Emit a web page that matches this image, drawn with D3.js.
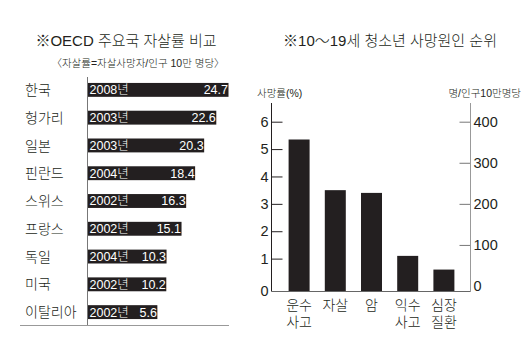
<!DOCTYPE html>
<html>
<head>
<meta charset="utf-8">
<script src="https://cdn.jsdelivr.net/npm/d3@7"></script>
<style>
  body { margin: 0; background: #fff; }
  svg text { font-family: "Liberation Sans", "Noto Sans CJK KR", sans-serif; fill: #231f20; font-weight: 300; }
</style>
</head>
<body>
<div id="chart"></div>
<script>
// left: OECD suicide rates
const countries = ['한국', '헝가리', '일본', '핀란드', '스위스', '프랑스', '독일', '미국', '이탈리아'];
const years = ['2008년', '2003년', '2003년', '2004년', '2002년', '2002년', '2004년', '2002년', '2002년'];
const rates = [24.7, 22.6, 20.3, 18.4, 16.3, 15.1, 10.3, 10.2, 5.6];

// right: teen causes of death
const causes = [['운수', '사고'], ['자살'], ['암'], ['익수', '사고'], ['심장', '질환']];
const causeRates = [5.35, 3.5, 3.4, 1.1, 0.6];
const pctTicks = [0, 1, 2, 3, 4, 5, 6];
const perTicks = [0, 100, 200, 300, 400];

const W = 525, H = 363;
const ink = '#231f20';

const svg = d3.select('#chart').append('svg')
  .attr('width', W)
  .attr('height', H);

// ---------- left chart ----------
const axisX = 87.5;
const y1 = d3.scaleBand().domain(countries).range([76, 326]).paddingInner(0.5).paddingOuter(0.25);
// bars are drawn with a stretched scale so the year label fits in the short ones
const x1 = d3.scalePow().exponent(2).domain([0, 24.7]).range([axisX + 66, axisX + 141]);

svg.append('text')
  .attr('x', 126).attr('y', 46)
  .attr('text-anchor', 'middle')
  .style('font-size', '15px')
  .text('※OECD 주요국 자살률 비교');

svg.append('text')
  .attr('x', 138).attr('y', 67)
  .attr('text-anchor', 'middle')
  .style('font-size', '10.5px')
  .text('〈자살률=자살사망자/인구 10만 명당〉');

const rows = svg.append('g').selectAll('g')
  .data(countries)
  .join('g')
  .attr('transform', d => 'translate(0,' + y1(d) + ')');

rows.append('rect')
  .attr('x', axisX)
  .attr('width', (d, i) => x1(rates[i]) - axisX)
  .attr('height', y1.bandwidth())
  .attr('fill', ink);

rows.append('text')
  .attr('x', 25)
  .attr('y', y1.bandwidth() / 2)
  .attr('dy', '0.36em')
  .style('font-size', '14px')
  .text(d => d);

rows.append('text')
  .attr('x', axisX + 2)
  .attr('y', y1.bandwidth() / 2)
  .attr('dy', '0.36em')
  .style('font-size', '12.5px')
  .style('fill', '#fff')
  .text((d, i) => years[i]);

rows.append('text')
  .attr('x', (d, i) => x1(rates[i]) - 0.5)
  .attr('y', y1.bandwidth() / 2)
  .attr('dy', '0.36em')
  .attr('text-anchor', 'end')
  .style('font-size', '12.5px')
  .style('fill', '#fff')
  .text((d, i) => rates[i]);

svg.append('line')
  .attr('x1', axisX).attr('x2', axisX)
  .attr('y1', 77).attr('y2', 326)
  .attr('stroke', '#777').attr('stroke-width', 1);

svg.append('line')
  .attr('x1', 20).attr('x2', 229)
  .attr('y1', 325.5).attr('y2', 325.5)
  .attr('stroke', '#999').attr('stroke-width', 1.2);

// ---------- right chart ----------
const leftX = 271.5, rightX = 470.5, baseY = 291.5;
const y2 = d3.scaleLinear().domain([0, 6]).range([286, 121.7]);
const y3 = d3.scaleLinear().domain([0, 400]).range([286, 121.7]);
const x2 = d3.scaleBand().domain(d3.range(causes.length)).range([281, 462]).paddingInner(0.42).paddingOuter(0.21);

svg.append('text')
  .attr('x', 390).attr('y', 46)
  .attr('text-anchor', 'middle')
  .style('font-size', '15px')
  .text('※10〜19세 청소년 사망원인 순위');

svg.append('text')
  .attr('x', 257).attr('y', 97)
  .style('font-size', '10.5px')
  .text('사망률(%)');

svg.append('text')
  .attr('x', 521).attr('y', 97)
  .attr('text-anchor', 'end')
  .style('font-size', '10.5px')
  .text('명/인구10만명당');

svg.append('g')
  .selectAll('rect')
  .data(causeRates)
  .join('rect')
  .attr('x', (d, i) => x2(i))
  .attr('y', d => y2(d))
  .attr('width', x2.bandwidth())
  .attr('height', d => baseY - y2(d))
  .attr('fill', ink);

// left axis (ticks point inward)
const axL = svg.append('g').attr('transform', 'translate(' + leftX + ',0)')
  .call(d3.axisRight(y2).tickValues(pctTicks.slice(1)).tickSize(11).tickFormat(''));
axL.select('.domain').remove();
axL.selectAll('line').attr('stroke', ink);
svg.append('g').selectAll('text')
  .data(pctTicks)
  .join('text')
  .attr('x', leftX - 3)
  .attr('y', d => d === 0 ? y2(d) + 5 : y2(d))
  .attr('dy', '0.36em')
  .attr('text-anchor', 'end')
  .style('font-size', '14.5px')
  .text(d => d);
svg.append('line')
  .attr('x1', leftX).attr('x2', leftX)
  .attr('y1', 103).attr('y2', baseY)
  .attr('stroke', ink);

// right axis (ticks point inward)
const axR = svg.append('g').attr('transform', 'translate(' + rightX + ',0)')
  .call(d3.axisLeft(y3).tickValues(perTicks.slice(1)).tickSize(11).tickFormat(''));
axR.select('.domain').remove();
axR.selectAll('line').attr('stroke', '#777');
svg.append('g').selectAll('text')
  .data(perTicks)
  .join('text')
  .attr('x', rightX + 3)
  .attr('y', d => y3(d))
  .attr('dy', '0.36em')
  .style('font-size', '14.5px')
  .text(d => d);
svg.append('line')
  .attr('x1', rightX).attr('x2', rightX)
  .attr('y1', 103).attr('y2', baseY)
  .attr('stroke', '#999');

svg.append('line')
  .attr('x1', leftX).attr('x2', rightX)
  .attr('y1', baseY).attr('y2', baseY)
  .attr('stroke', '#666');

// category labels, two lines each
const cat = svg.append('g').selectAll('text')
  .data(causes)
  .join('text')
  .attr('text-anchor', 'middle')
  .style('font-size', '14px')
  .attr('transform', (d, i) => 'translate(' + (x2(i) + x2.bandwidth() / 2) + ',' + 310 + ')');
cat.selectAll('tspan')
  .data(d => d)
  .join('tspan')
  .attr('x', 0)
  .attr('dy', (d, j) => j === 0 ? 0 : 17)
  .text(d => d);
</script>
</body>
</html>
